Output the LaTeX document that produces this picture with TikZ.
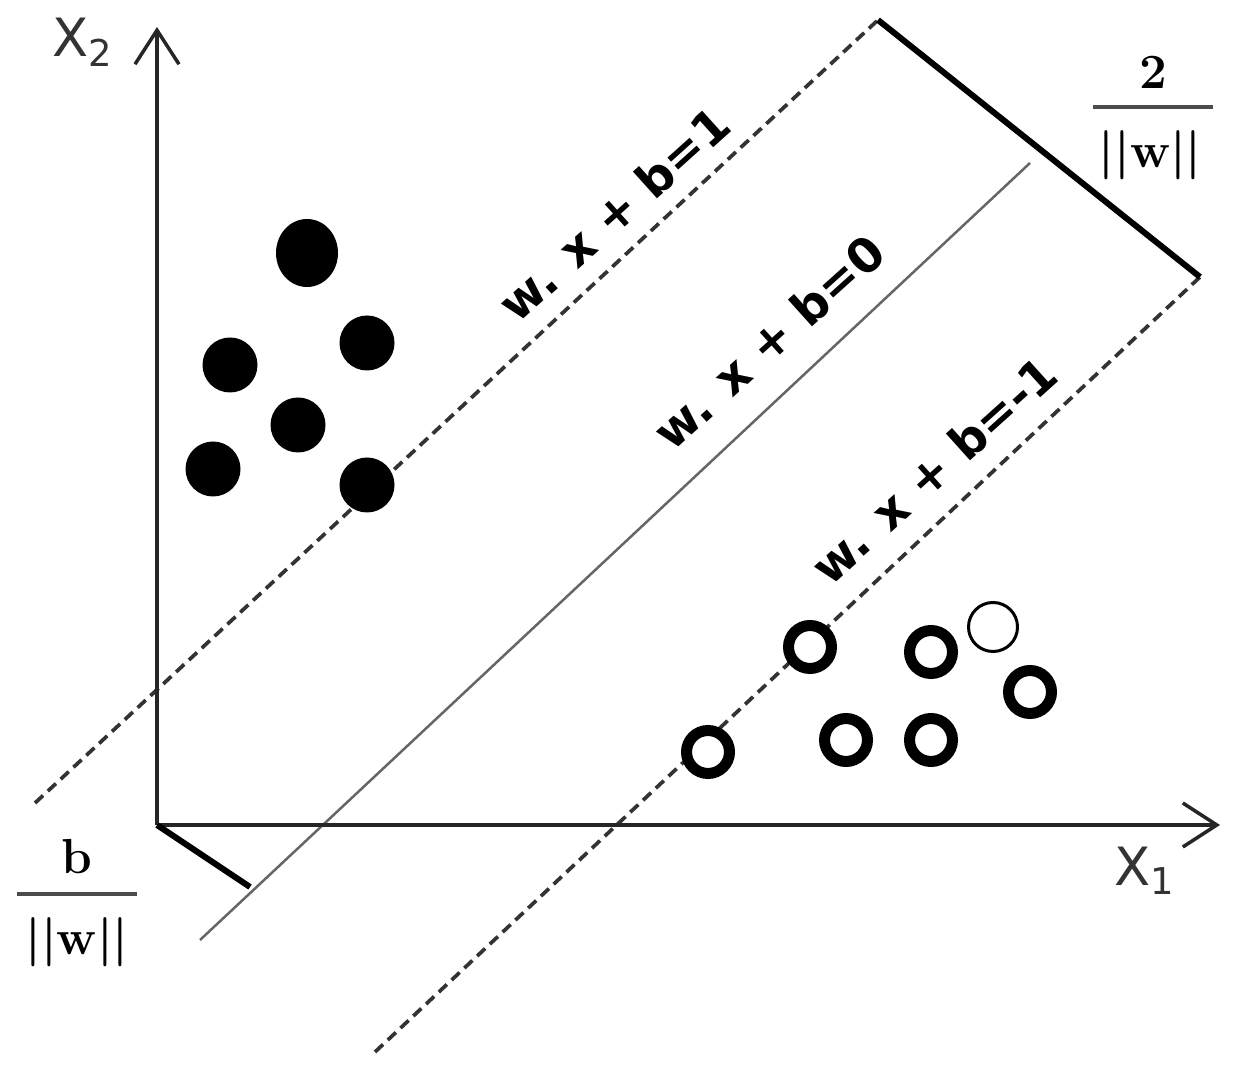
\documentclass[tikz,border=0pt]{standalone}
\usepackage{fontspec}
\newfontfamily\labelfont{DejaVu Sans}
\usetikzlibrary{arrows.meta}
\begin{document}
\begin{tikzpicture}[x=0.01cm,y=-0.01cm]
            \tikzstyle{every node}+=[inner sep=0pt]
            \tikzstyle{axisline}=[black!85, line width=0.035cm, -{Straight Barb[length=3.4mm,width=4.4mm]}]
            \tikzstyle{marginline}=[black!80, line width=0.037cm, dash pattern=on 0.11cm off 0.065cm]
            \tikzstyle{hyperplane}=[black!60, line width=0.025cm]
            \tikzstyle{widthbar}=[black, line width=0.06cm]
            \tikzstyle{planelabel}=[font=\labelfont\bfseries\fontsize{13.5}{16}\selectfont, rotate=42]
            \tikzstyle{axislabel}=[anchor=base west, black!80, font=\labelfont\fontsize{15}{18}\selectfont]
            \tikzstyle{fracpart}=[font=\bfseries\fontsize{14}{16}\selectfont]
            \tikzstyle{fracbar}=[black!70, line width=0.045cm]
            \useasboundingbox (0,0) rectangle (1234,1068);
            \coordinate (O) at (157,825);
            \coordinate (ytip) at (157,27);
            \coordinate (xtip) at (1220,825);
            \coordinate (up1) at (35,803);
            \coordinate (up2) at (878,20);
            \coordinate (mid1) at (200,940);
            \coordinate (mid2) at (1030,163);
            \coordinate (lo1) at (375,1052);
            \coordinate (lo2) at (1200,277);
            \coordinate (foot) at (250,887);
            \draw [marginline] (up1) -- (up2);
            \draw [hyperplane] (mid1) -- (mid2);
            \draw [marginline] (lo1) -- (lo2);
            \draw [axisline] (O) -- (ytip);
            \draw [axisline] (O) -- (xtip);
            \draw [widthbar] (up2) -- (lo2);
            \draw [widthbar] (O) -- (foot);
            \fill [black] (307,253) ellipse (31 and 34);
            \foreach \x/\y in {230/365, 367/343, 298/425, 213/469, 367/485}
                \fill [black] (\x,\y) circle (27.5);
            \foreach \x/\y in {810/647, 931/652, 1030/692, 708/752, 846/740, 931/740}
                \draw [black, line width=0.11cm, fill=white] (\x,\y) circle (21.5);
            \draw [black, line width=0.03cm, fill=white] (993,627) circle (24.5);
            \node [planelabel] (eqone) at (614,214) {w. x + b=1};
            \node [planelabel] (eqzero) at (769,342) {w. x + b=0};
            \node [planelabel] (eqminus) at (934,470) {w. x + b=-1};
            \node [axislabel] (xtwo) at (52,57) {X\textsubscript{2}};
            \node [axislabel] (xone) at (1114,885) {X\textsubscript{1}};
            \node [fracpart] (two) at (1153,72) {2};
            \node [fracpart] (normtop) at (1150,155) {||w||};
            \draw [fracbar] (1093,107) -- (1213,107);
            \node [fracpart] (bnum) at (77,857) {b};
            \node [fracpart] (normbot) at (77,942) {||w||};
            \draw [fracbar] (17,894) -- (137,894);
        \end{tikzpicture}
\end{document}
